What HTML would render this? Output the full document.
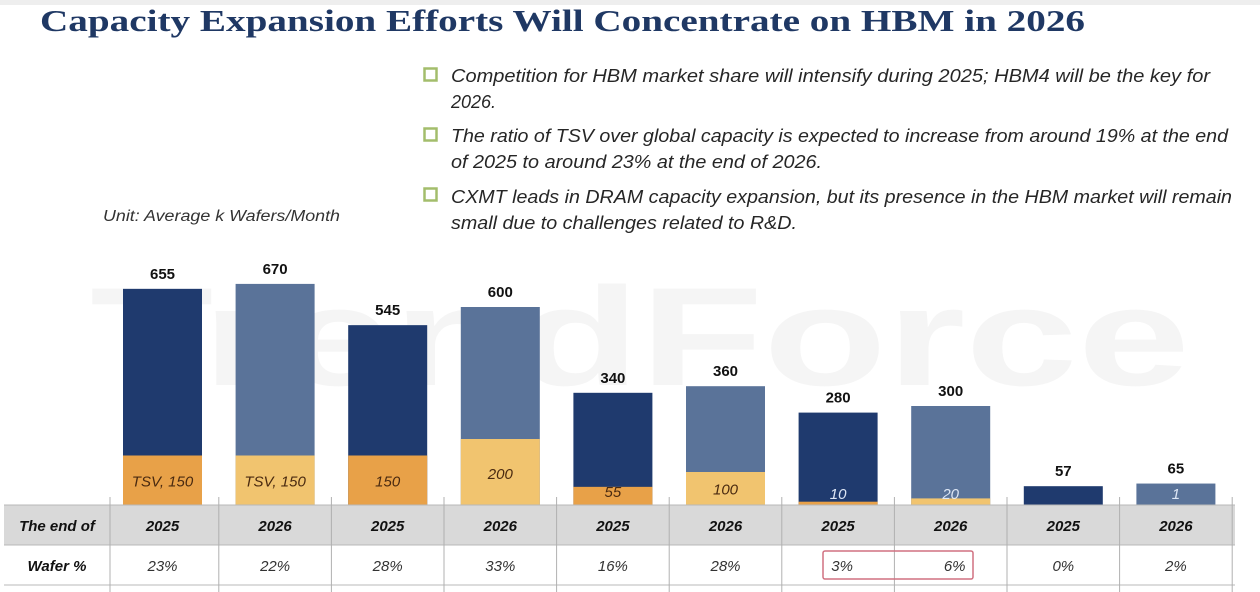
<!DOCTYPE html>
<html><head><meta charset="utf-8"><style>
body{margin:0;width:1260px;height:592px;background:#fff;overflow:hidden;font-family:"Liberation Sans",sans-serif}
svg{display:block}
</style></head><body>
<svg id="c" width="1260" height="592" xmlns="http://www.w3.org/2000/svg">
<rect x="0" y="0" width="1260" height="5" fill="#eeeeee"/>
<text x="90" y="385" font-family="Liberation Sans" font-weight="bold" font-size="140" fill="#f5f5f5" textLength="1100" lengthAdjust="spacingAndGlyphs">TrendForce</text>
<text x="40" y="31" font-family="Liberation Serif" font-weight="bold" font-size="31" fill="#1f3864" textLength="1045" lengthAdjust="spacingAndGlyphs">Capacity Expansion Efforts Will Concentrate on HBM in 2026</text>
<g id="bullets" font-family="Liberation Sans" font-style="italic" font-size="18" fill="#262626">
<rect x="424.5" y="68.5" width="12" height="12" fill="none" stroke="#a3bd6c" stroke-width="2.5"/>
<text x="451" y="82" textLength="759" lengthAdjust="spacingAndGlyphs">Competition for HBM market share will intensify during 2025; HBM4 will be the key for</text>
<text x="451" y="108">2026.</text>
<rect x="424.5" y="128.5" width="12" height="12" fill="none" stroke="#a3bd6c" stroke-width="2.5"/>
<text x="451" y="142" textLength="777" lengthAdjust="spacingAndGlyphs">The ratio of TSV over global capacity is expected to increase from around 19% at the end</text>
<text x="451" y="168" textLength="371" lengthAdjust="spacingAndGlyphs">of 2025 to around 23% at the end of 2026.</text>
<rect x="424.5" y="188.5" width="12" height="12" fill="none" stroke="#a3bd6c" stroke-width="2.5"/>
<text x="451" y="203" textLength="781" lengthAdjust="spacingAndGlyphs">CXMT leads in DRAM capacity expansion, but its presence in the HBM market will remain</text>
<text x="451" y="229" textLength="346" lengthAdjust="spacingAndGlyphs">small due to challenges related to R&amp;D.</text>
</g>
<text x="103" y="221" font-style="italic" font-size="15.5" fill="#333" textLength="237" lengthAdjust="spacingAndGlyphs">Unit: Average k Wafers/Month</text>
<g id="marks"></g>
</svg>
<script>
const years = ["2025","2026","2025","2026","2025","2026","2025","2026","2025","2026"];
const totals = [655,670,545,600,340,360,280,300,57,65];
const tsv = [150,150,150,200,55,100,10,20,0,1];
const tsvLabels = ["TSV, 150","TSV, 150","150","200","55","100","10","20","","1"];
const waferPct = ["23%","22%","28%","33%","16%","28%","3%","6%","0%","2%"];

const NS="http://www.w3.org/2000/svg";
const g=document.getElementById('marks');
const baseY=505, k=0.33, x0=162.5, step=112.6, bw=79;
const xC=i=>x0+i*step;
const yS=v=>baseY-v*k;
function el(t,a){const e=document.createElementNS(NS,t);for(const n in a)e.setAttribute(n,a[n]);g.appendChild(e);return e;}
for(let i=0;i<totals.length;i++){
  const is25=years[i]==="2025";
  const top=el('rect',{x:xC(i)-bw/2,y:yS(totals[i]),width:bw,height:totals[i]*k,fill:is25?"#1f3a6e":"#5a7399"});
  
  
  const t=el('rect',{x:xC(i)-bw/2,y:yS(tsv[i]),width:bw,height:tsv[i]*k,fill:is25?"#e8a148":"#f1c46f"});
  
  
  const lab=el('text',{x:xC(i),y:yS(totals[i])-10,"text-anchor":"middle","font-weight":"bold","font-size":"15",fill:"#111"});
  lab.textContent=totals[i];
  
  
  if(tsvLabels[i]){
    const small=tsv[i]<40;
    const ly=small?baseY-6:(tsv[i]<80?baseY-8:yS(tsv[i])+tsv[i]*k/2+6);
    const ty=(tsv[i]===200)?yS(tsv[i])+40:ly;
    const tl=el('text',{x:xC(i),y:ty,"text-anchor":"middle","font-style":"italic","font-size":"15",fill:small?"#dde6f5":"#4a2a10"});
    tl.textContent=tsvLabels[i];
    
    
  }
}
const tb=el('rect',{x:4,y:505,width:1231,height:40,fill:"#d9d9d9"});


[505,545,585].forEach((y,j)=>{const l=el('line',{x1:4,x2:1235,y1:y,y2:y,stroke:"#b8b8b8","stroke-width":1});

});
const firstCol=110;
for(let i=0;i<=10;i++){
  const x=i===0?firstCol:xC(i-1)+step/2;
  const l=el('line',{x1:x,x2:x,y1:497,y2:592,stroke:"#b0b0b0","stroke-width":1});
  
  
}
const h1=el('text',{x:57,y:531,"text-anchor":"middle","font-weight":"bold","font-style":"italic","font-size":"15",fill:"#111"});
h1.textContent="The end of";


const h2=el('text',{x:57,y:571,"text-anchor":"middle","font-weight":"bold","font-style":"italic","font-size":"15",fill:"#111"});
h2.textContent="Wafer %";


for(let i=0;i<years.length;i++){
  const a=el('text',{x:xC(i),y:531,"text-anchor":"middle","font-weight":"bold","font-style":"italic","font-size":"15",fill:"#111"});
  a.textContent=years[i];
  
  
  const b=el('text',{x:xC(i)+(i===6?4:i===7?4:0),y:571,"text-anchor":"middle","font-style":"italic","font-size":"15",fill:"#333"});
  b.textContent=waferPct[i];
  
  
}
const hl=el('rect',{x:823,y:551,width:150,height:28,fill:"none",stroke:"#d07080","stroke-width":1.5,rx:2});


</script>
</body></html>
